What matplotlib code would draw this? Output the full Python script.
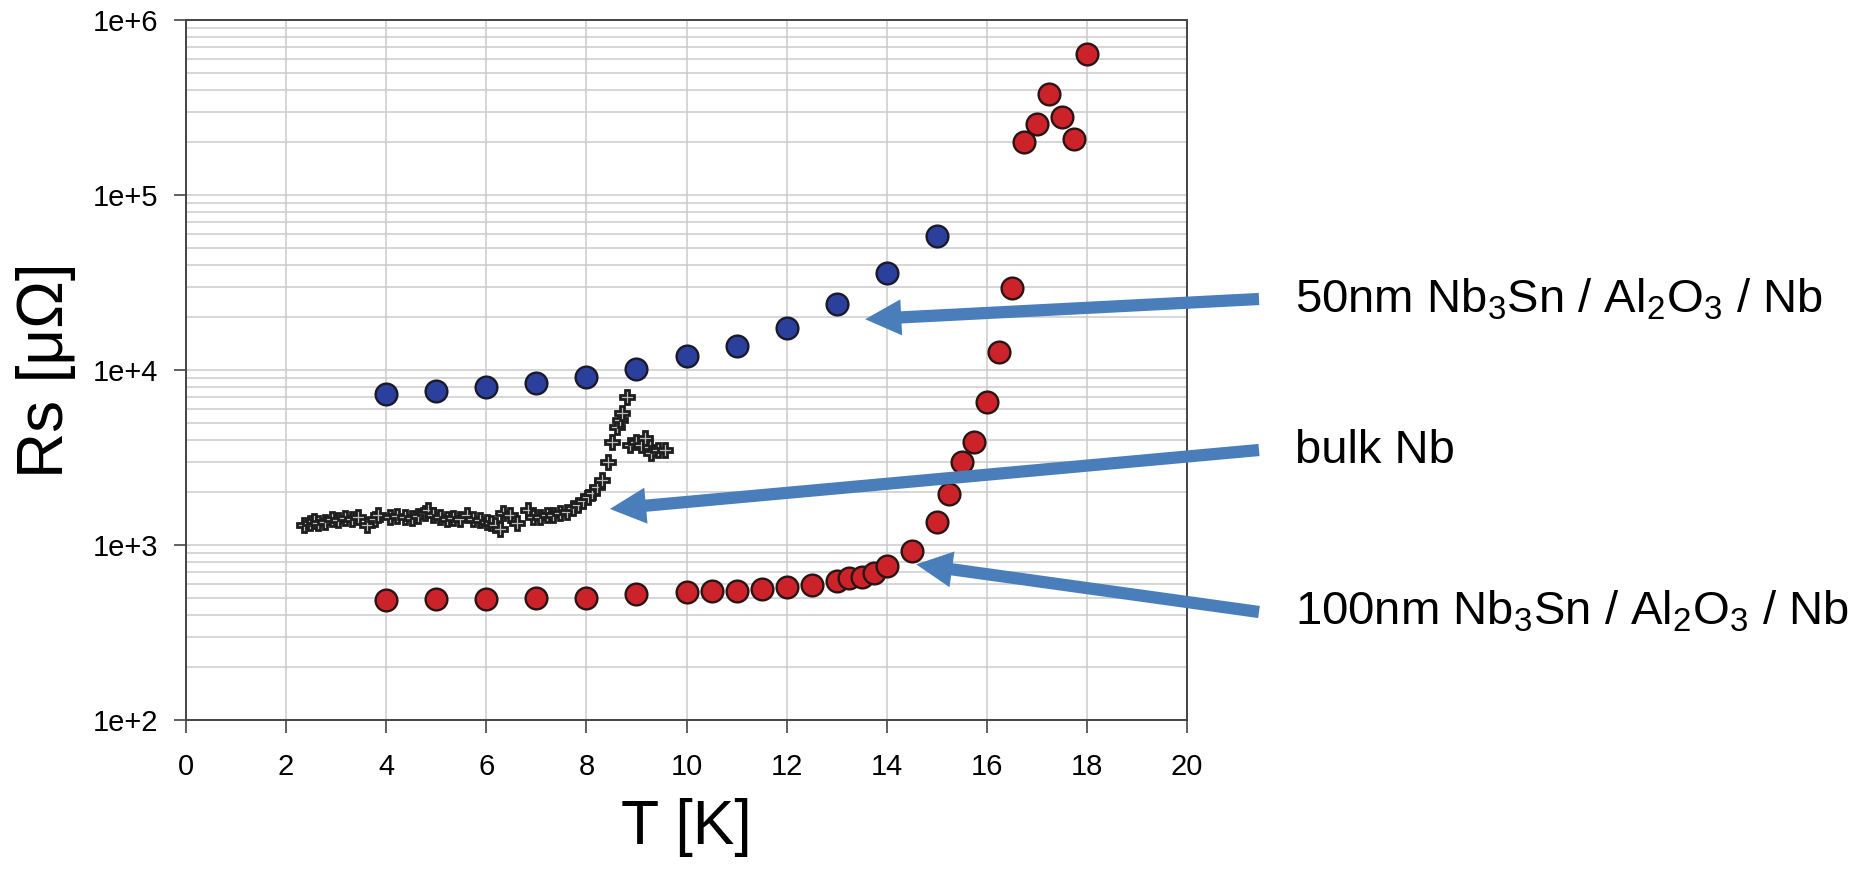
import matplotlib
matplotlib.use("Agg")
import matplotlib.pyplot as plt
import numpy as np
from matplotlib.ticker import FixedLocator, FuncFormatter, LogLocator

plt.rcParams['font.family'] = ['Liberation Sans', 'DejaVu Sans']
plt.rcParams['mathtext.fontset'] = 'custom'
plt.rcParams['mathtext.rm'] = 'Liberation Sans'
plt.rcParams['mathtext.default'] = 'regular'

# 50nm Nb3Sn / Al2O3 / Nb
t_50nm = [4, 5, 6, 7, 8, 9, 10, 11, 12, 13, 14, 15]
rs_50nm = [7250, 7600, 7970, 8480, 9180, 10070, 11980, 13800, 17450, 23900, 35900, 58500]

# 100nm Nb3Sn / Al2O3 / Nb
t_100nm = [4, 5, 6, 7, 8, 9, 10, 10.5, 11, 11.5, 12, 12.5, 13, 13.25, 13.5, 13.75, 14,
           14.5, 15, 15.25, 15.5, 15.75, 16, 16.25, 16.5, 16.75, 17, 17.25, 17.5, 17.75, 18]
rs_100nm = [486, 490, 491, 500, 496, 523, 539, 546, 546, 563, 578, 591, 623, 645, 659, 689, 762,
            925, 1346, 1960, 2990, 3890, 6590, 12600, 29400, 202000, 254000, 376000, 278000,
            208000, 637000]

# bulk Nb
t_bulk = [2.36, 2.48, 2.56, 2.64, 2.78, 2.91, 3.04, 3.18, 3.31, 3.44, 3.61, 3.78, 3.84,
          4.08, 4.21, 4.38, 4.51, 4.64, 4.78, 4.84, 4.94, 5.07, 5.21, 5.34, 5.47, 5.61,
          5.74, 5.87, 6.01, 6.09, 6.17, 6.27, 6.34, 6.47, 6.61, 6.84, 6.94, 7.07, 7.21,
          7.34, 7.47, 7.61, 7.74, 7.84, 7.94, 8.04, 8.11, 8.21, 8.31, 8.44, 8.51, 8.61,
          8.67, 8.71, 8.81, 8.87, 9.00, 9.10, 9.17, 9.27, 9.30, 9.44, 9.57]
rs_bulk = [1301, 1337, 1373, 1330, 1360, 1403, 1389, 1433, 1414, 1452, 1301, 1414, 1484,
           1452, 1463, 1452, 1433, 1463, 1517, 1585, 1484, 1452, 1414, 1433, 1414, 1484,
           1414, 1389, 1360, 1330, 1300, 1230, 1517, 1484, 1330, 1585, 1452, 1452, 1484,
           1484, 1517, 1549, 1621, 1698, 1775, 1886, 1971, 2153, 2352, 2995, 3890, 4740,
           5180, 5660, 6980, 3728, 3890, 3728, 4070, 3647, 3340, 3490, 3490]

labels = ['50nm Nb$_3$Sn / Al$_2$O$_3$ / Nb', 'bulk Nb', '100nm Nb$_3$Sn / Al$_2$O$_3$ / Nb']
# arrow tips (data) and label positions (figure pixels from top-left)
tips = [(13.57, 19500), (8.47, 1607), (14.59, 775)]
label_pos = [(1295, 312), (1295, 463), (1295, 625)]

W, H = 1866, 874
fig = plt.figure(figsize=(W / 100, H / 100), dpi=100)
ax = fig.add_axes([186 / W, 1 - 720 / H, 1001 / W, 700 / H])

ax.set_yscale('log')
ax.set_xlim(0, 20)
ax.set_ylim(1e2, 1e6)

ax.scatter(t_50nm, rs_50nm, s=245, c='#2b3f9d', edgecolors='#1a1a2a', linewidths=1.7, zorder=3)
ax.scatter(t_100nm, rs_100nm, s=245, c='#cc2229', edgecolors='#2a1515', linewidths=1.7, zorder=3)
ax.plot(t_bulk, rs_bulk, ls='none', marker='P', ms=10, mfc='#bdbdbd', mec='#1e1e1e', mew=2.0, zorder=3)

ax.xaxis.set_major_locator(FixedLocator(np.arange(0, 21, 2)))
ax.yaxis.set_major_locator(FixedLocator([1e2, 1e3, 1e4, 1e5, 1e6]))
ax.yaxis.set_minor_locator(LogLocator(base=10, subs=np.arange(2, 10)))
ax.yaxis.set_major_formatter(FuncFormatter(lambda v, p: '1e+%d' % round(np.log10(v))))
ax.yaxis.set_minor_formatter(FuncFormatter(lambda v, p: ''))

ax.grid(True, which='major', color='#cccccc', lw=1.1)
ax.grid(True, which='minor', axis='y', color='#cccccc', lw=1.1)
ax.set_axisbelow(True)

ax.tick_params(axis='both', which='major', labelsize=21, length=9, width=1.2, color='#444444')
ax.tick_params(axis='x', which='major', pad=15)
ax.tick_params(axis='y', which='major', pad=11)
ax.tick_params(axis='y', which='minor', length=0)
for s in ax.spines.values():
    s.set_color('#444444')
    s.set_linewidth(1.4)

ax.set_xlabel('T [K]', fontsize=45, labelpad=12)
ax.set_ylabel('Rs [μΩ]', fontsize=46, labelpad=12)

for lab, (lx, ly), tip in zip(labels, label_pos, tips):
    fig.text(lx / W, 1 - ly / H, lab, fontsize=34, va='baseline', ha='left')
    ax.annotate('', xy=tip, xycoords='data',
                xytext=(1259, H - (ly - 13)), textcoords='figure pixels',
                arrowprops=dict(arrowstyle='simple,head_length=0.65,head_width=0.65,tail_width=0.22',
                                mutation_scale=40, fc='#4a7ebb', ec='none',
                                shrinkA=0, shrinkB=0),
                annotation_clip=False)

fig.savefig('out.png', dpi=100)
